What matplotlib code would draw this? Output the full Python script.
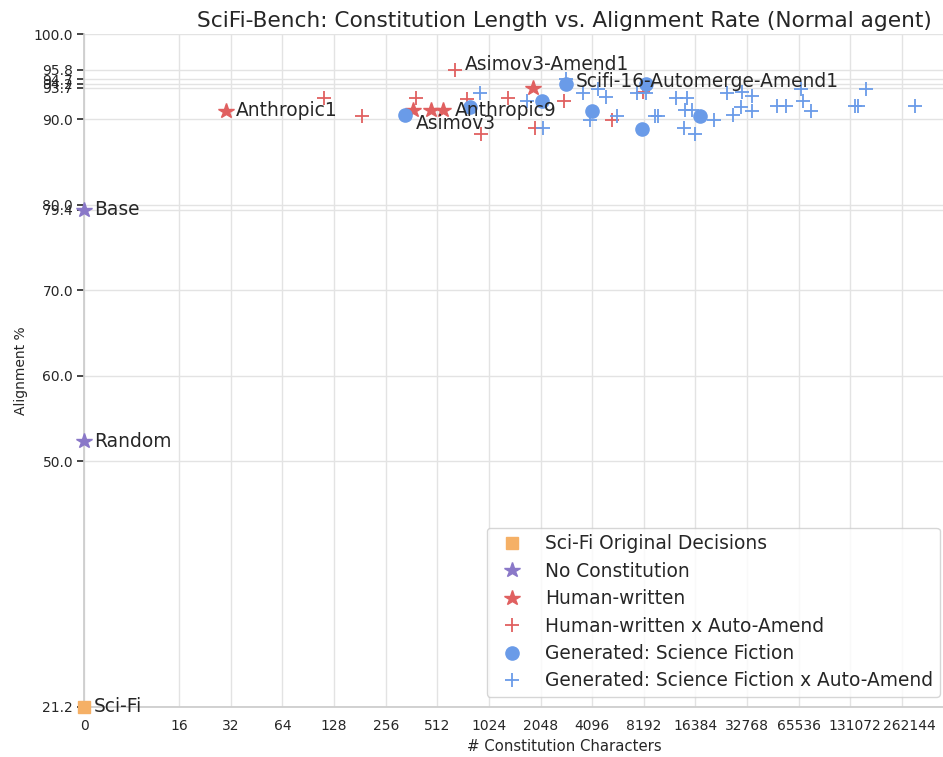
import matplotlib
matplotlib.use("Agg")
import matplotlib.pyplot as plt
import matplotlib.transforms as mtransforms

# ---------------- data ----------------
scifi_x = [0]
scifi_y = [21.2]

noconst_x = [0, 0]
noconst_y = [79.4, 52.3]
noconst_names = ["Base", "Random"]

human_x = [30, 371, 470, 556, 1859]
human_y = [91.0, 91.1, 91.1, 91.1, 93.7]

human_aa_x = [112, 185, 385, 652, 767, 1331, 917, 1904, 2809, 5333, 8130]
human_aa_y = [92.5, 90.4, 92.5, 95.8, 92.4, 92.5, 88.3, 89.0, 92.1, 89.9, 93.2]

gen_x = [332, 794, 2082, 2875, 4107, 7950, 8450, 17450]
gen_y = [90.5, 91.5, 92.1, 94.2, 91.0, 88.9, 94.2, 90.4]

gen_aa_x = [909, 1702, 2110, 2872, 3611, 4416, 4905, 3983, 5700, 7517, 8448,
            9537, 9967, 12640, 14650, 14260, 15600, 14080, 16400, 21150, 24990,
            27090, 30160, 30570, 34960, 34960, 48900, 55040, 67800, 69900,
            77200, 140000, 144700, 161100, 313400]
gen_aa_y = [93.1, 92.2, 89.0, 94.7, 93.1, 93.6, 92.6, 89.9, 90.4, 93.1, 93.1,
            90.4, 90.4, 92.5, 92.5, 91.1, 91.1, 89.0, 88.3, 89.9, 93.1,
            90.5, 91.5, 93.2, 92.7, 91.0, 91.6, 91.6, 93.6, 92.1,
            91.0, 91.6, 91.6, 93.6, 91.6]

# labelled points: (name, x, y)
labels = [
    ("Sci-Fi", 0, 21.2),
    ("Base", 0, 79.4),
    ("Random", 0, 52.3),
    ("Anthropic1", 30, 91.0),
    ("Anthropic9", 556, 91.1),
    ("Asimov3", 332, 90.5),
    ("Asimov3-Amend1", 652, 95.8),
    ("Scifi-16-Automerge-Amend1", 2872, 94.7),
]
label_offsets = {
    "Sci-Fi": (7, 0), "Base": (7, 0), "Random": (7, 0),
    "Anthropic1": (7, 0), "Anthropic9": (8, 0), "Asimov3": (8, -6),
    "Asimov3-Amend1": (7, 4), "Scifi-16-Automerge-Amend1": (7, -1.5),
}

y_ticks = [21.2, 50.0, 60.0, 70.0, 79.4, 80.0, 90.0, 93.7, 94.2, 94.7, 95.8, 100.0]
x_ticks = [0, 16, 32, 64, 128, 256, 512, 1024, 2048, 4096, 8192, 16384,
           32768, 65536, 131072, 262144]

# ---------------- style ----------------
c_orange = "#f5b066"
c_purple = "#8a78c8"
c_red = "#e06060"
c_blue = "#6a9be8"
txt = "#262626"

plt.rcParams["font.family"] = ["DejaVu Sans"]
plt.rcParams["text.color"] = txt
plt.rcParams["axes.labelcolor"] = txt
plt.rcParams["xtick.color"] = txt
plt.rcParams["ytick.color"] = txt

fig = plt.figure(figsize=(9.43, 7.57), dpi=100)
ax = fig.add_axes([84.3 / 943, 1 - 707 / 757, (1044 - 84.3) / 943, (707 - 34) / 757])

ax.set_xscale("symlog", base=2, linthresh=16, linscale=0.92)

ax.plot(scifi_x, scifi_y, "s", color=c_orange, ms=9, ls="none",
        label="Sci-Fi Original Decisions", zorder=4, clip_on=False)
ax.plot(noconst_x, noconst_y, "*", color=c_purple, ms=11.5, ls="none",
        label="No Constitution", zorder=4, clip_on=False)
ax.plot(human_x, human_y, "*", color=c_red, ms=11.5, ls="none",
        label="Human-written", zorder=4)
ax.plot(human_aa_x, human_aa_y, "+", color=c_red, ms=10, mew=1.3, ls="none",
        label="Human-written x Auto-Amend", zorder=4)
ax.plot(gen_x, gen_y, "o", color=c_blue, ms=9.5, ls="none",
        label="Generated: Science Fiction", zorder=4)
ax.plot(gen_aa_x, gen_aa_y, "+", color=c_blue, ms=10, mew=1.3, ls="none",
        label="Generated: Science Fiction x Auto-Amend", zorder=4)

for name, x, y in labels:
    dx, dy = label_offsets[name]
    ax.annotate(name, (x, y), xytext=(dx, dy), textcoords="offset points",
                ha="left", va="center", fontsize=13.4, color=txt, zorder=5)

ax.set_xlim(0, 1.77e6)
ax.set_ylim(21.2, 100)
ax.set_xticks(x_ticks)
ax.set_xticklabels([str(t) for t in x_ticks])
ax.minorticks_off()
ax.set_yticks(y_ticks)
ax.set_yticklabels([f"{t:.1f}" for t in y_ticks])
ax.tick_params(axis="x", length=0, labelsize=10, pad=9)
ax.tick_params(axis="y", length=5, width=1.2, labelsize=10, pad=3)

# the two widest labels sit slightly right of their grid lines in the reference
for lab, shift in zip(ax.get_xticklabels()[-2:], [5, 8]):
    lab.set_transform(lab.get_transform() +
                      mtransforms.ScaledTranslation(shift / 100, 0, fig.dpi_scale_trans))

ax.grid(True, color="#e3e3e3", linewidth=1.0)
ax.set_axisbelow(True)
for s in ["top", "right"]:
    ax.spines[s].set_visible(False)
for s in ["left", "bottom"]:
    ax.spines[s].set_color("#cccccc")
    ax.spines[s].set_linewidth(1.25)

ax.set_xlabel("# Constitution Characters", fontsize=10.7)
ax.set_ylabel("Alignment %", fontsize=10)

ax.set_title("SciFi-Bench: Constitution Length vs. Alignment Rate (Normal agent)",
             fontsize=15.6, color=txt, pad=5)

leg = ax.legend(loc="lower right", fontsize=13.4, frameon=True, borderpad=0.35,
                labelspacing=0.455, handletextpad=0.8, borderaxespad=0,
                bbox_to_anchor=(940 / 943, 1 - 697 / 757),
                bbox_transform=fig.transFigure)
leg.get_frame().set_edgecolor("#cccccc")

fig.savefig("out.png", dpi=100)
